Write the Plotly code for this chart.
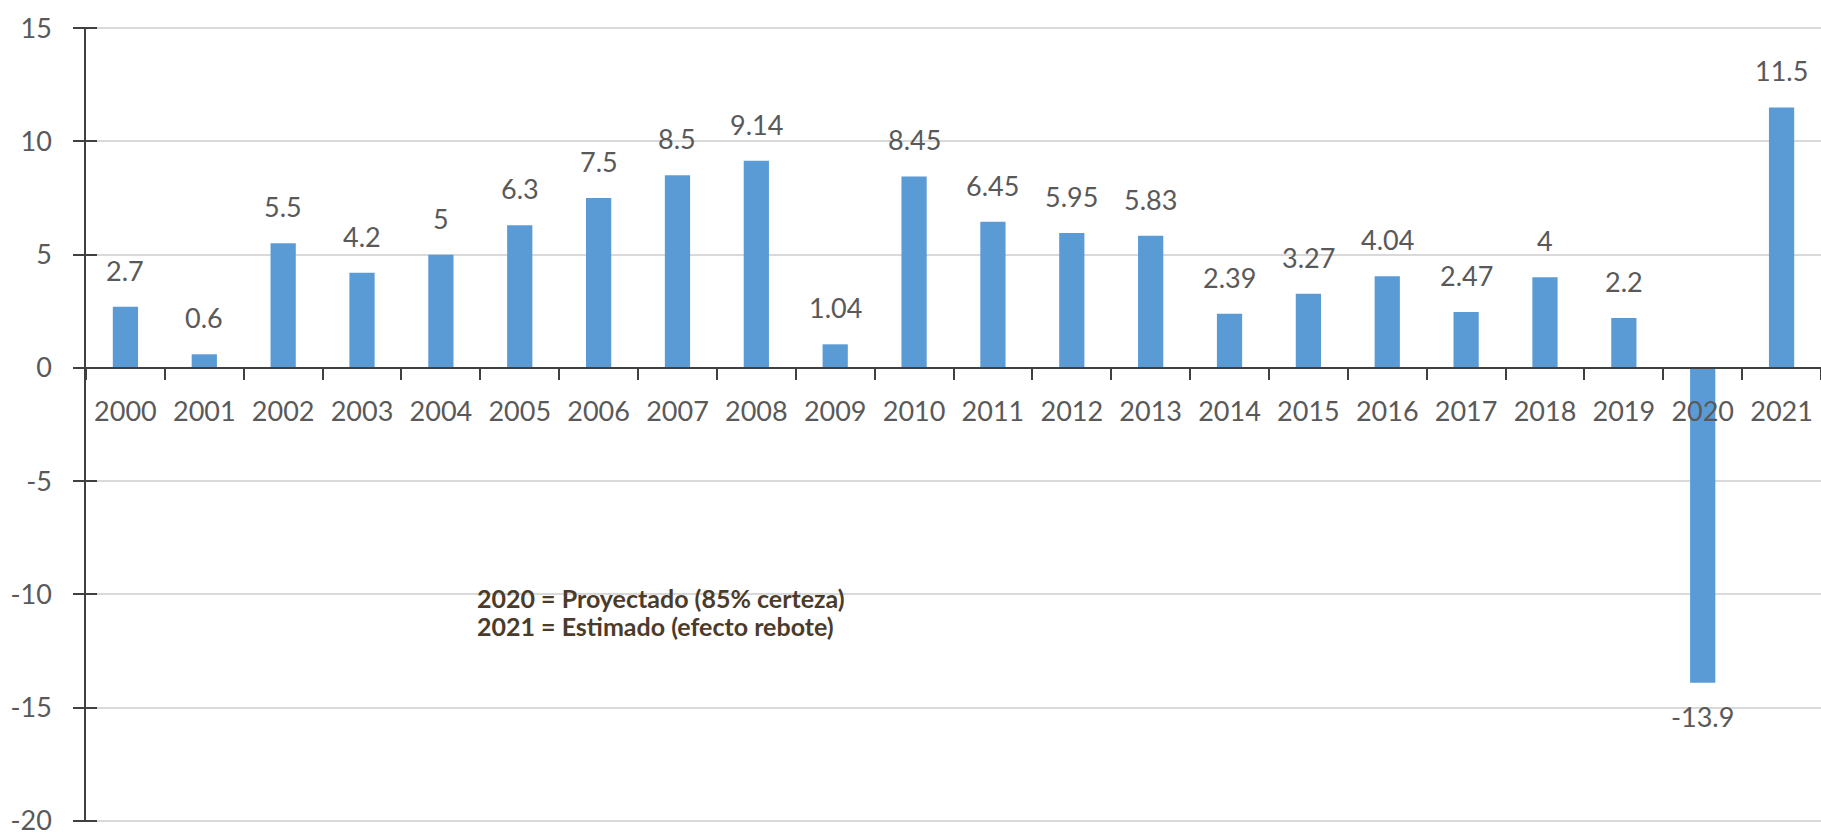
import plotly.graph_objects as go

years = ["2000", "2001", "2002", "2003", "2004", "2005", "2006", "2007", "2008", "2009", "2010",
         "2011", "2012", "2013", "2014", "2015", "2016", "2017", "2018", "2019", "2020", "2021"]
growth = [2.7, 0.6, 5.5, 4.2, 5, 6.3, 7.5, 8.5, 9.14, 1.04, 8.45,
          6.45, 5.95, 5.83, 2.39, 3.27, 4.04, 2.47, 4, 2.2, -13.9, 11.5]
labels = ["2.7", "0.6", "5.5", "4.2", "5", "6.3", "7.5", "8.5", "9.14", "1.04", "8.45",
          "6.45", "5.95", "5.83", "2.39", "3.27", "4.04", "2.47", "4", "2.2", "-13.9", "11.5"]
y_ticks = [15, 10, 5, 0, -5, -10, -15, -20]
y_ticktext = ["15", "10", "5", "0", "-5", "-10", "-15", "-20"]
note_lines = ["2020 = Proyectado (85% certeza)", "2021 = Estimado (efecto rebote)"]

FONT = "Lato"
GREY = "#595959"
AXIS = "#404040"

fig = go.Figure()
fig.add_trace(go.Bar(x=years, y=growth, marker=dict(color="#5B9BD5", line=dict(width=0)),
                     hoverinfo="x+y"))
# invisible helper so the overlaid axis (inner half of the y tick marks) is drawn
fig.add_trace(go.Scatter(x=[years[0]], y=[0], yaxis="y2", mode="markers",
                         marker=dict(opacity=0), showlegend=False, hoverinfo="skip"))

for i, (v, lab) in enumerate(zip(growth, labels)):
    fig.add_annotation(x=i, y=v, text=lab, showarrow=False,
                       yanchor="bottom" if v >= 0 else "top",
                       yshift=18 if v >= 0 else -15,
                       font=dict(family=FONT, size=27, color=GREY))

for line, ypos in zip(note_lines, [0.2818, 0.2465]):
    fig.add_annotation(xref="paper", yref="paper", x=0.2242, y=ypos, xanchor="left",
                       yanchor="middle", align="left", showarrow=False, text=line,
                       font=dict(family=FONT, size=25, color="#4B3B2B", weight="bold"))

fig.update_layout(
    width=1821, height=836,
    margin=dict(l=86, r=0, t=27, b=14),
    paper_bgcolor="white", plot_bgcolor="white",
    showlegend=False, bargap=0.68,
    font=dict(family=FONT, color=GREY),
    xaxis=dict(type="category", categoryorder="array", categoryarray=years,
               range=[-0.5, len(years) - 0.5], automargin=False,
               anchor="free", position=20.05 / 35.1,
               showline=True, linecolor=AXIS, linewidth=1.5,
               ticks="outside", ticklen=11, tickwidth=1.5, tickcolor=AXIS,
               tickson="boundaries", showgrid=False, tickangle=0,
               tickfont=dict(family=FONT, size=27, color=GREY),
               ticklabelstandoff=20, ticklabeloverflow="allow"),
    yaxis=dict(range=[-20.05, 15.05], tickvals=y_ticks, ticktext=y_ticktext, automargin=False,
               showgrid=True, gridcolor="#D9D9D9", gridwidth=1.5,
               zeroline=False, showline=True, linecolor=AXIS, linewidth=1.5,
               ticks="outside", ticklen=11, tickwidth=1.5, tickcolor=AXIS,
               tickfont=dict(family=FONT, size=27, color=GREY),
               ticklabelstandoff=16, ticklabeloverflow="allow"),
    yaxis2=dict(range=[-20.05, 15.05], tickvals=y_ticks, overlaying="y", side="left",
                automargin=False, showgrid=False, zeroline=False, showticklabels=False,
                ticks="inside", ticklen=11, tickwidth=1.5, tickcolor=AXIS, showline=False),
)

fig.write_html("out.html", config={"displayModeBar": False},
               post_script="document.body.style.margin='0';document.body.style.overflow='hidden';")
